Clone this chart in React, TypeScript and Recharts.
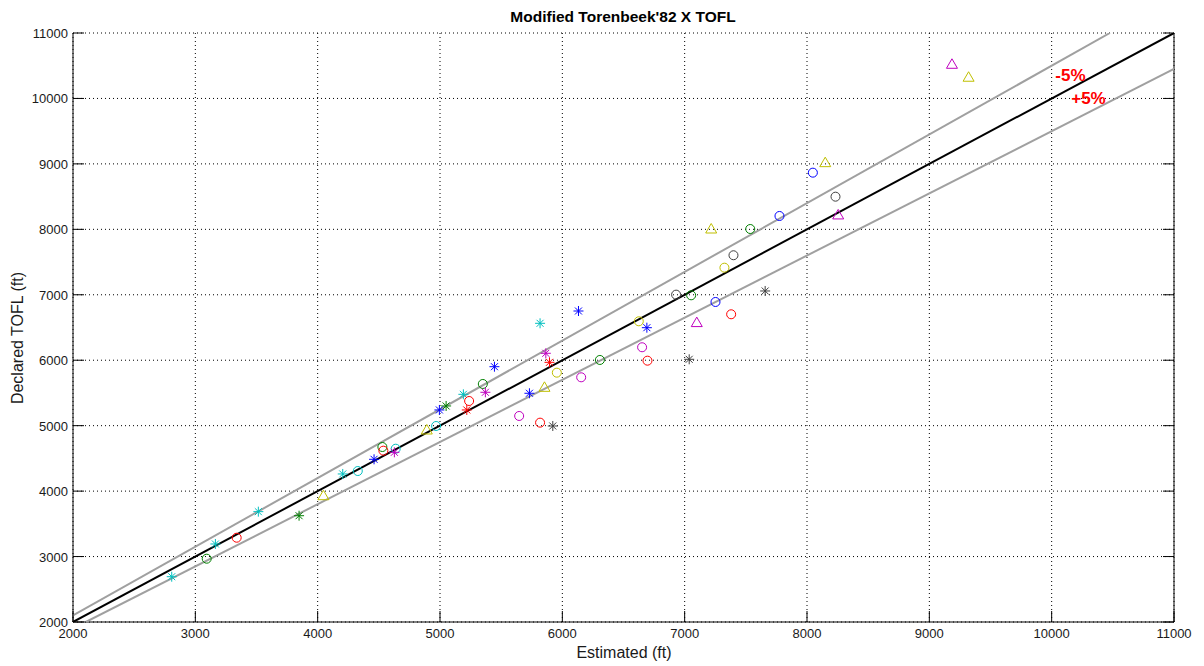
import { ScatterChart, Scatter, XAxis, YAxis, CartesianGrid } from "recharts";

// axis ticks
const ticks = [2000, 3000, 4000, 5000, 6000, 7000, 8000, 9000, 10000, 11000];

// reference lines (endpoints inside the axes box)
const idealLine = [
  { x: 2000, y: 2000 },
  { x: 11000, y: 11000 },
];
const minus5Line = [
  { x: 2000, y: 2100 },
  { x: 10476, y: 11000 },
];
const plus5Line = [
  { x: 2105, y: 2000 },
  { x: 11000, y: 10450 },
];

// points: [estimated, declared]
const cyanStar = [[2807, 2692], [3164, 3192], [3515, 3686], [4205, 4262], [5191, 5479], [5818, 6564]];
const cyanCircle = [[4328, 4307], [4638, 4648], [4968, 4995]];
const greenCircle = [[3093, 2967], [4529, 4674], [5350, 5637], [6307, 6004], [7053, 6992], [7536, 8005]];
const greenStar = [[3848, 3624], [5050, 5301]];
const redCircle = [[3338, 3288], [4537, 4618], [5238, 5377], [5818, 5046], [6696, 5993], [7380, 6702]];
const redStar = [[5219, 5240], [5895, 5968]];
const yellowTri = [[4047, 3930], [4892, 4934], [5854, 5586], [7217, 8005], [8149, 9019], [9321, 10324]];
const yellowCircle = [[5955, 5810], [6625, 6595], [7325, 7414]];
const blueStar = [[4461, 4486], [4995, 5240], [5445, 5901], [5731, 5495], [6132, 6752], [6691, 6497]];
const blueCircle = [[7252, 6890], [7775, 8204], [8048, 8866]];
const magentaStar = [[4627, 4593], [5371, 5510], [5865, 6106]];
const magentaCircle = [[5647, 5148], [6154, 5739], [6652, 6198]];
const magentaTri = [[7099, 6575], [8255, 8220], [9185, 10522]];
const grayStar = [[5922, 4995], [7037, 6014], [7658, 7058]];
const grayCircle = [[6930, 7002], [7399, 7604], [8233, 8499]];

// band labels
const bandLabels = [
  { x: 10030, y: 10360, text: "-5%" },
  { x: 10160, y: 10005, text: "+5%" },
];

const toXY = (arr: number[][]) => arr.map(([x, y]) => ({ x, y }));

const FONT = "'Liberation Sans', Arial, Helvetica, sans-serif";

const makeShape = (kind: string, color: string) => (props: any) => {
  const { cx, cy } = props;
  if (cx == null || cy == null) return <g />;
  if (kind === "o") {
    return <circle cx={cx} cy={cy} r={4.5} fill="none" stroke={color} strokeWidth={1} />;
  }
  if (kind === "^") {
    return (
      <polygon
        points={`${cx},${cy - 5.5} ${cx - 5.5},${cy + 4} ${cx + 5.5},${cy + 4}`}
        fill="none"
        stroke={color}
        strokeWidth={1}
      />
    );
  }
  return (
    <g stroke={color} strokeWidth={1}>
      <line x1={cx - 5} x2={cx + 5} y1={cy} y2={cy} />
      <line x1={cx} x2={cx} y1={cy - 5} y2={cy + 5} />
      <line x1={cx - 3.5} x2={cx + 3.5} y1={cy - 3.5} y2={cy + 3.5} />
      <line x1={cx - 3.5} x2={cx + 3.5} y1={cy + 3.5} y2={cy - 3.5} />
    </g>
  );
};

const noShape = () => <g />;

const BottomTick = ({ x, y, payload }: any) => (
  <g>
    <line x1={x} x2={x} y1={y} y2={y - 11} stroke="#000" strokeWidth={1} />
    <text x={x} y={y + 16} textAnchor="middle" fontSize={13} fontFamily={FONT} fill="#1a1a1a">
      {payload.value}
    </text>
  </g>
);

const TopTick = ({ x, y }: any) => (
  <line x1={x} x2={x} y1={y} y2={y + 11} stroke="#000" strokeWidth={1} />
);

const LeftTick = ({ x, y, payload }: any) => (
  <g>
    <line x1={x} x2={x + 11} y1={y} y2={y} stroke="#000" strokeWidth={1} />
    <text x={x - 5} y={y + 5} textAnchor="end" fontSize={13} fontFamily={FONT} fill="#1a1a1a">
      {payload.value}
    </text>
  </g>
);

const RightTick = ({ x, y }: any) => (
  <line x1={x} x2={x - 11} y1={y} y2={y} stroke="#000" strokeWidth={1} />
);

const BandLabel = (props: any) => {
  const { cx, cy, payload } = props;
  return (
    <text x={cx} y={cy + 6} fontSize={17} fontWeight="bold" fontFamily={FONT} fill="#ff0000">
      {payload.text}
    </text>
  );
};

const series: [number[][], string, string][] = [
  [cyanStar, "*", "#00bfbf"],
  [cyanCircle, "o", "#00bfbf"],
  [greenCircle, "o", "#008000"],
  [greenStar, "*", "#008000"],
  [redCircle, "o", "#ff0000"],
  [redStar, "*", "#ff0000"],
  [yellowTri, "^", "#bfbf00"],
  [yellowCircle, "o", "#bfbf00"],
  [blueStar, "*", "#0000ff"],
  [blueCircle, "o", "#0000ff"],
  [magentaStar, "*", "#bf00bf"],
  [magentaCircle, "o", "#bf00bf"],
  [magentaTri, "^", "#bf00bf"],
  [grayStar, "*", "#404040"],
  [grayCircle, "o", "#404040"],
];

export default function App() {
  return (
    <div style={{ position: "absolute", left: 0, top: 0, width: 1204, height: 666, background: "#fff" }}>
      <ScatterChart width={1204} height={666} margin={{ top: 33, right: 0, bottom: 0, left: 0 }}>
        <text x={623} y={22} textAnchor="middle" fontSize={15.5} fontWeight="bold" fontFamily={FONT} fill="#000">
          Modified Torenbeek'82 X TOFL
        </text>
        <text x={624} y={658} textAnchor="middle" fontSize={16} fontFamily={FONT} fill="#1a1a1a">
          Estimated (ft)
        </text>
        <text
          x={23}
          y={338}
          transform="rotate(-90, 23, 338)"
          textAnchor="middle"
          fontSize={16}
          fontFamily={FONT}
          fill="#1a1a1a"
        >
          Declared TOFL (ft)
        </text>
        <CartesianGrid stroke="#000" strokeDasharray="1 3" />
        <XAxis
          type="number"
          dataKey="x"
          domain={[2000, 11000]}
          ticks={ticks}
          allowDataOverflow
          height={44}
          stroke="#000"
          tickLine={false}
          tickSize={0}
          tickMargin={0}
          tick={<BottomTick />}
          interval={0}
        />
        <XAxis
          xAxisId="top"
          orientation="top"
          type="number"
          domain={[2000, 11000]}
          ticks={ticks}
          allowDataOverflow
          height={0}
          stroke="#000"
          tickLine={false}
          tickSize={0}
          tickMargin={0}
          tick={<TopTick />}
          interval={0}
        />
        <YAxis
          type="number"
          dataKey="y"
          domain={[2000, 11000]}
          ticks={ticks}
          allowDataOverflow
          width={73}
          stroke="#000"
          tickLine={false}
          tickSize={0}
          tickMargin={0}
          tick={<LeftTick />}
          interval={0}
        />
        <YAxis
          yAxisId="right"
          orientation="right"
          type="number"
          domain={[2000, 11000]}
          ticks={ticks}
          allowDataOverflow
          width={30}
          stroke="#000"
          tickLine={false}
          tickSize={0}
          tickMargin={0}
          tick={<RightTick />}
          interval={0}
        />
        <Scatter data={minus5Line} line={{ stroke: "#a0a0a0", strokeWidth: 2 }} shape={noShape} isAnimationActive={false} />
        <Scatter data={plus5Line} line={{ stroke: "#a0a0a0", strokeWidth: 2 }} shape={noShape} isAnimationActive={false} />
        <Scatter data={idealLine} line={{ stroke: "#000", strokeWidth: 2 }} shape={noShape} isAnimationActive={false} />
        {series.map(([pts, kind, color], i) => (
          <Scatter key={i} data={toXY(pts)} shape={makeShape(kind, color)} isAnimationActive={false} />
        ))}
        <Scatter data={bandLabels} shape={<BandLabel />} isAnimationActive={false} />
      </ScatterChart>
    </div>
  );
}
